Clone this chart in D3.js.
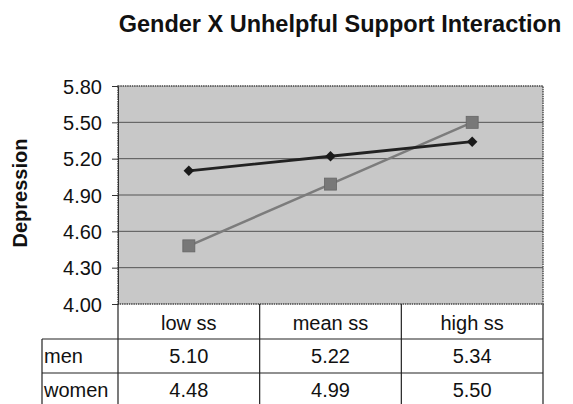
<!DOCTYPE html>
<html>
<head>
<meta charset="utf-8">
<script src="https://cdn.jsdelivr.net/npm/d3@7"></script>
<style>
  body { margin: 0; background: #fff; }
  text { font-family: "Liberation Sans", Arial, sans-serif; fill: #111; }
</style>
</head>
<body>
<div id="chart"></div>
<script>
let categories = ["low ss", "mean ss", "high ss"];
let seriesNames = ["men", "women"];
let menValues = [5.10, 5.22, 5.34];
let womenValues = [4.48, 4.99, 5.50];
let yTicks = [4.00, 4.30, 4.60, 4.90, 5.20, 5.50, 5.80];

let w = 573, h = 404;
let plotLeft = 118, plotRight = 543, plotTop = 86, plotBottom = 304;
let rowH = 34;

const svg = d3.select("#chart")
  .append("svg")
  .attr("width", w)
  .attr("height", h);

const xScale = d3.scaleBand()
  .domain(categories)
  .range([plotLeft, plotRight]);

const yScale = d3.scaleLinear()
  .domain([4.0, 5.8])
  .range([plotBottom, plotTop]);

// plot background
svg.append("rect")
  .attr("x", plotLeft)
  .attr("y", plotTop)
  .attr("width", plotRight - plotLeft)
  .attr("height", plotBottom - plotTop)
  .attr("fill", "#c8c8c8");

// gridlines
svg.append("g")
  .selectAll("line")
  .data(yTicks.slice(1, -1))
  .enter()
  .append("line")
  .attr("x1", plotLeft)
  .attr("x2", plotRight)
  .attr("y1", d => yScale(d))
  .attr("y2", d => yScale(d))
  .attr("stroke", "#555")
  .attr("stroke-width", 1);

// plot border
svg.append("rect")
  .attr("x", plotLeft)
  .attr("y", plotTop)
  .attr("width", plotRight - plotLeft)
  .attr("height", plotBottom - plotTop)
  .attr("fill", "none")
  .attr("stroke", "#444")
  .attr("stroke-width", 1.4)
  .attr("stroke-dasharray", "1.5,0.8");

const yAxis = d3.axisLeft(yScale)
  .tickValues(yTicks)
  .tickFormat(d3.format(".2f"))
  .tickSizeInner(6)
  .tickSizeOuter(0)
  .tickPadding(10);

let yg = svg.append("g")
  .attr("transform", "translate(" + plotLeft + ",0)")
  .call(yAxis);
yg.select(".domain").attr("stroke", "#333");
yg.selectAll(".tick line").attr("stroke", "#333");
yg.selectAll("text")
  .attr("font-size", 20)
  .attr("dy", "0.36em")
  .attr("fill", "#111")
  .style("font-family", "Liberation Sans, Arial, sans-serif");

// lines
let line = d3.line()
  .x((d, i) => xScale(categories[i]) + xScale.bandwidth() / 2)
  .y(d => yScale(d));

svg.append("path")
  .datum(womenValues)
  .attr("d", line)
  .attr("fill", "none")
  .attr("stroke", "#7c7c7c")
  .attr("stroke-width", 2.5);

svg.append("path")
  .datum(menValues)
  .attr("d", line)
  .attr("fill", "none")
  .attr("stroke", "#222")
  .attr("stroke-width", 2.8);

svg.selectAll(".sq")
  .data(womenValues)
  .enter()
  .append("rect")
  .attr("class", "sq")
  .attr("x", (d, i) => xScale(categories[i]) + xScale.bandwidth() / 2 - 6)
  .attr("y", d => yScale(d) - 6)
  .attr("width", 12)
  .attr("height", 12)
  .attr("fill", "#787878")
  .attr("stroke", "#666")
  .attr("stroke-width", 0.8);

svg.selectAll(".dia")
  .data(menValues)
  .enter()
  .append("path")
  .attr("class", "dia")
  .attr("d", d3.symbol().type(d3.symbolDiamond2).size(70))
  .attr("transform", (d, i) => "translate(" + (xScale(categories[i]) + xScale.bandwidth() / 2) + "," + yScale(d) + ")")
  .attr("fill", "#1a1a1a");

// data table
let tableLeft = 42;
let rowTops = [plotBottom + rowH + 1, plotBottom + 2 * rowH + 1];
let tableBottom = h + 2;
let tbl = svg.append("g")
  .attr("stroke", "#222")
  .attr("stroke-width", 1.2);

categories.forEach(c => {
  tbl.append("line")
    .attr("x1", xScale(c)).attr("x2", xScale(c))
    .attr("y1", plotBottom).attr("y2", tableBottom);
});
tbl.append("line")
  .attr("x1", plotRight).attr("x2", plotRight)
  .attr("y1", plotBottom).attr("y2", tableBottom);
tbl.append("line")
  .attr("x1", tableLeft).attr("x2", tableLeft)
  .attr("y1", rowTops[0]).attr("y2", tableBottom);
rowTops.forEach(y => {
  tbl.append("line")
    .attr("x1", tableLeft).attr("x2", plotRight)
    .attr("y1", y).attr("y2", y);
});

svg.selectAll(".head")
  .data(categories)
  .enter()
  .append("text")
  .attr("class", "head")
  .attr("x", d => xScale(d) + xScale.bandwidth() / 2)
  .attr("y", plotBottom + 26)
  .attr("text-anchor", "middle")
  .attr("font-size", 20)
  .text(d => d);

[menValues, womenValues].forEach((vals, r) => {
  svg.append("text")
    .attr("x", tableLeft + 2)
    .attr("y", rowTops[r] + 24)
    .attr("font-size", 20)
    .text(seriesNames[r]);
  svg.selectAll(".v" + r)
    .data(vals)
    .enter()
    .append("text")
    .attr("x", (d, i) => xScale(categories[i]) + xScale.bandwidth() / 2)
    .attr("y", rowTops[r] + 24)
    .attr("text-anchor", "middle")
    .attr("font-size", 20)
    .text(d => d.toFixed(2));
});

// titles
svg.append("text")
  .attr("x", 340)
  .attr("y", 32)
  .attr("text-anchor", "middle")
  .attr("font-size", 23.5)
  .attr("font-weight", "bold")
  .text("Gender X Unhelpful Support Interaction");

svg.append("text")
  .attr("transform", "translate(27,193) rotate(-90)")
  .attr("text-anchor", "middle")
  .attr("font-size", 20)
  .attr("font-weight", "bold")
  .text("Depression");
</script>
</body>
</html>
